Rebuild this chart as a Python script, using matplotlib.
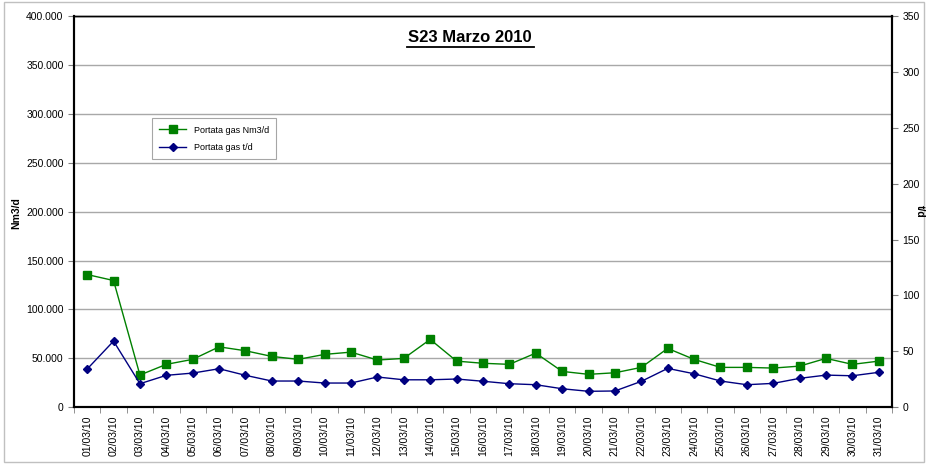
import matplotlib.pyplot as plt
from matplotlib.lines import Line2D
from matplotlib.patches import Rectangle
from matplotlib.ticker import FixedLocator, FuncFormatter, MultipleLocator

plt.rcParams["font.family"] = ["Liberation Sans", "DejaVu Sans"]

dates = [f"{d:02d}/03/10" for d in range(1, 32)]
portata_nm3 = [
    135700, 129600, 33000, 43900, 49000, 61800, 57800, 52000, 49000, 54100,
    56400, 48300, 50000, 69400, 47200, 45000, 43900, 55400, 36700, 33700,
    35300, 40800, 60200, 49000, 40800, 40800, 40100, 42100, 50000, 43900,
    47200,
]
portata_td = [
    34.2, 59.2, 21.1, 28.6, 30.6, 34.5, 28.6, 23.5, 23.5, 21.7,
    21.7, 27.1, 24.6, 24.6, 25.3, 23.3, 21.1, 20.2, 16.6, 14.3,
    14.6, 23.2, 34.8, 30.0, 23.5, 20.2, 21.4, 25.9, 28.8, 28.2,
    31.3,
]
title = "S23 Marzo 2010"

fig = plt.figure(figsize=(9.28, 4.70), dpi=100)
fig.patches.append(Rectangle((0.004, 0.017), 0.992, 0.979, transform=fig.transFigure,
                             fill=False, edgecolor="#c0c0c0", linewidth=1.0))

ax = fig.add_axes([0.0797, 0.1334, 0.8815, 0.8326])
x = list(range(len(dates)))

ax.plot(x, portata_nm3, color="#008000", linewidth=1.0, marker="s", markersize=6,
        markerfacecolor="#008000", markeredgecolor="#008000", label="Portata gas Nm3/d")
ax.plot([], [], color="#000080", linewidth=1.0, marker="D", markersize=4,
        label="Portata gas t/d")

ax2 = ax.twinx()
ax2.plot(x, portata_td, color="#000080", linewidth=1.0, marker="D", markersize=4,
         markerfacecolor="#000080", markeredgecolor="#000080")

ax.set_xlim(-0.5, len(dates) - 0.5)
ax.set_ylim(0, 400000)
ax2.set_ylim(0, 350)

ax.yaxis.set_major_locator(MultipleLocator(50000))
ax.yaxis.set_major_formatter(FuncFormatter(lambda v, p: f"{int(v):,}".replace(",", ".")))
ax2.yaxis.set_major_locator(MultipleLocator(50))

ax.set_xticks(x)
ax.set_xticklabels(dates, rotation=90, fontsize=7.5)
ax.xaxis.set_minor_locator(FixedLocator([i - 0.5 for i in range(len(dates) + 1)]))
ax.tick_params(axis="x", which="major", length=0, pad=6)
ax.tick_params(axis="x", which="minor", length=4, direction="out", color="#808080")
ax.tick_params(axis="y", labelsize=7.5, length=4, direction="out", color="#808080")
ax2.tick_params(axis="y", labelsize=7.5, length=4, direction="out", color="#808080")

ax.grid(axis="y", color="#a8a8a8", linewidth=1.0)
ax.set_axisbelow(True)
for a in (ax, ax2):
    for s in a.spines.values():
        s.set_color("black")
        s.set_linewidth(1.5)
    a.spines["top"].set_linewidth(1.0)

fig.text(16 / 928, 1 - 213 / 470, "Nm3/d", rotation=90, ha="center", va="center",
         fontsize=7.5, fontweight="bold")
fig.text(920 / 928, 1 - 211 / 470, "t/d", rotation=270, ha="center", va="center",
         fontsize=7.5, fontweight="bold")

leg = ax.legend(loc="upper left", bbox_to_anchor=(0.09, 0.75), fontsize=6.5,
                frameon=True, fancybox=False, edgecolor="#909090", borderpad=0.8,
                handlelength=3.0, labelspacing=0.9)
leg.get_frame().set_linewidth(0.8)

fig.text(470 / 928, 1 - 38 / 470, title, ha="center", va="center",
         fontsize=12, fontweight="bold")
fig.lines.append(Line2D([407 / 928, 534 / 928], [1 - 47 / 470, 1 - 47 / 470],
                        transform=fig.transFigure, color="black", linewidth=1.3))

fig.savefig("out.png", dpi=100)
